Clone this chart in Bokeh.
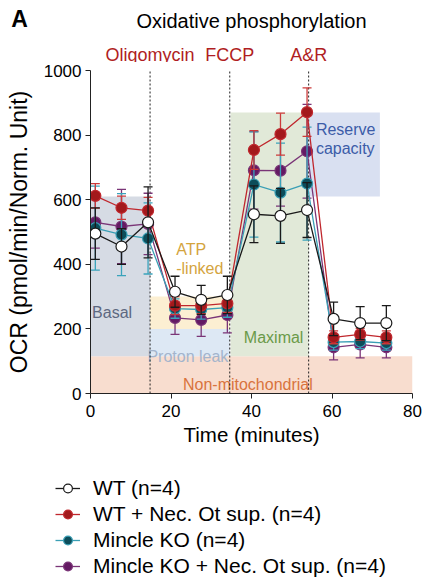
from bokeh.plotting import figure
from bokeh.layouts import column
from bokeh.models import Legend, LegendItem, ColumnDataSource, Range1d, FixedTicker
from bokeh.embed import file_html
from bokeh.resources import INLINE

# ---------------- data ----------------
time_min = [1.2, 7.7, 14.3, 21.0, 27.5, 34.0, 40.6, 47.2, 53.8, 60.4, 67.0, 73.5]

wt_mean = [495, 455, 530, 315, 290, 305, 555, 550, 568, 231, 218, 218]
wt_err = [80, 55, 110, 48, 45, 58, 88, 85, 85, 52, 51, 54]

wt_sup_mean = [612, 575, 566, 272, 272, 279, 754, 803, 871, 174, 183, 174]
wt_sup_err = [38, 36, 41, 28, 25, 28, 60, 65, 75, 20, 18, 20]

ko_mean = [512, 492, 480, 263, 260, 266, 647, 622, 650, 159, 161, 156]
ko_err = [130, 127, 110, 30, 30, 30, 163, 153, 175, 25, 22, 22]

ko_sup_mean = [530, 517, 525, 234, 228, 243, 691, 690, 750, 143, 152, 143]
ko_sup_err = [80, 115, 95, 51, 51, 55, 120, 110, 145, 39, 42, 33]

series_names = ["WT (n=4)", "WT + Nec. Ot sup. (n=4)", "Mincle KO (n=4)",
                "Mincle KO + Nec. Ot sup. (n=4)"]

injection_names = ["Oligomycin", "FCCP", "A&R"]
injection_times = [14.8, 34.6, 54.2]

region_left = [0, 0, 14.8, 14.8, 34.8, 54.2]
region_right = [80, 14.8, 34.6, 34.6, 54.2, 71.9]
region_bottom = [0, 115, 200, 115, 115, 610]
region_top = [115, 610, 300, 200, 870, 870]
region_colors = ["#f8ddcf", "#d6dbe4", "#fcefd2", "#dde8f4", "#e1e9d8", "#d9e0f1"]

x_ticks = [0, 20, 40, 60, 80]
y_ticks = [0, 200, 400, 600, 800, 1000]

FONT = "Liberation Sans"
W = 424
LEFT, RIGHT = 90, 12                     # frame borders of the main plot (px)
X0, X1 = 0, 80                           # time axis range
PX_PER_MIN = (W - LEFT - RIGHT) / (X1 - X0)
HEAD_H = 62

# ---------------- header (panel letter, title, injection labels) ----------------
head = figure(width=W, height=HEAD_H,
              x_range=Range1d(X0 - LEFT / PX_PER_MIN, X1 + RIGHT / PX_PER_MIN),
              y_range=Range1d(0, HEAD_H),
              output_backend="svg", toolbar_location=None, title=None,
              x_axis_type=None, y_axis_type=None,
              min_border_left=0, min_border_right=0, min_border_top=0, min_border_bottom=0)
head.frame_align = False
head.outline_line_color = None
head.grid.visible = False
head.text(x=[X0], y=[HEAD_H - 18], x_offset=-71, text=["A"], text_font={"value": FONT},
          text_font_size="23px", text_font_style="bold", text_align="center",
          text_baseline="middle", text_color="black")
head.text(x=[(X0 + X1) / 2], y=[HEAD_H - 20], text=["Oxidative phosphorylation"],
          text_font={"value": FONT}, text_font_size="20px", text_align="center",
          text_baseline="middle", text_color="black")
head.text(x=injection_times, y=[8] * 3, text=injection_names,
          text_align="center", text_baseline="alphabetic", text_color="#b01e23",
          text_font={"value": FONT}, text_font_size="18px")

# ---------------- main plot ----------------
p = figure(width=W, height=583 - HEAD_H - 128, x_range=Range1d(X0, X1), y_range=Range1d(0, 1000),
           output_backend="svg", toolbar_location=None, title=None,
           min_border_left=LEFT, min_border_right=RIGHT, min_border_top=70 - HEAD_H,
           min_border_bottom=62)
p.frame_align = False
p.outline_line_color = None
p.xgrid.visible = False
p.ygrid.visible = False

for ax in (p.xaxis[0], p.yaxis[0]):
    ax.major_tick_in = 0
    ax.major_tick_out = 5
    ax.minor_tick_line_color = None
    ax.axis_line_color = "#222222"
    ax.major_tick_line_color = "#222222"
    ax.major_label_text_font = FONT
    ax.major_label_text_font_size = "17px"
    ax.major_label_text_color = "black"
    ax.axis_label_text_font = FONT
    ax.axis_label_text_font_style = "normal"
    ax.axis_label_text_color = "black"

p.xaxis[0].ticker = FixedTicker(ticks=x_ticks)
p.yaxis[0].ticker = FixedTicker(ticks=y_ticks)
p.xaxis[0].axis_label = "Time (minutes)"
p.yaxis[0].axis_label = "OCR (pmol/min/Norm. Unit)"
p.xaxis[0].axis_label_text_font_size = "20.5px"
p.yaxis[0].axis_label_text_font_size = "23px"
p.xaxis[0].major_label_standoff = 6
p.yaxis[0].major_label_standoff = 4
p.xaxis[0].axis_label_standoff = 3
p.yaxis[0].axis_label_standoff = 9

# shaded regions
p.quad(left=region_left, right=region_right, bottom=region_bottom, top=region_top,
       fill_color=region_colors, line_color=None)

def txt(fig, x, y, s, color, align="center", size="16px"):
    fig.text(x=[x], y=[y], text=[s], text_color=color, text_font_size=size,
             text_align=align, text_baseline="middle", text_font={"value": FONT})

txt(p, 0.4, 251, "Basal", "#5d6880", align="left")
txt(p, 21.3, 447, "ATP", "#d4a43e", align="left")
txt(p, 21.3, 387, "-linked", "#d4a43e", align="left")
txt(p, 24.2, 116, "Proton leak", "#a3b4cc")
txt(p, 45.5, 174, "Maximal", "#6a9a48")
txt(p, 39.1, 28, "Non-mitochondrial", "#d9733d")
txt(p, 56.0, 817, "Reserve", "#3c5ca8", align="left")
txt(p, 56.0, 758, "capacity", "#3c5ca8", align="left")

# injection dashed lines
p.segment(x0=injection_times, x1=injection_times, y0=[0] * 3, y1=[1000] * 3,
          line_color="#222222", line_dash="2 2", line_width=1)

# series
series = [
    (ko_sup_mean, ko_sup_err, "#7a3577", "#641a63", "#7a3577", "#7a3577", series_names[3]),
    (ko_mean, ko_err, "#3a9fb5", "#0c4d5a", "#3a9fb5", "#3aa3bb", series_names[2]),
    (wt_sup_mean, wt_sup_err, "#c0272d", "#a3191c", "#c0272d", "#cc3a3a", series_names[1]),
    (wt_mean, wt_err, "#1a1a1a", "white", "#1a1a1a", "#1a1a1a", series_names[0]),
]

# ---------------- legend strip ----------------
leg = figure(width=W, height=128, x_range=Range1d(0, W), y_range=Range1d(-200, -100),
             output_backend="svg", toolbar_location=None, title=None,
             x_axis_type=None, y_axis_type=None,
             min_border_left=0, min_border_right=0, min_border_top=0, min_border_bottom=0)
leg.frame_align = False
leg.outline_line_color = None
leg.grid.visible = False

items = {}
for mean, err, lc, fc, mlc, ec, name in series:
    up = [m + e for m, e in zip(mean, err)]
    lo = [m - e for m, e in zip(mean, err)]
    src = ColumnDataSource(dict(t=time_min, m=mean, up=up, lo=lo))
    p.segment(x0="t", x1="t", y0="lo", y1="up", source=src, line_color=ec, line_width=1.3)
    p.scatter(x="t", y="up", source=src, marker="dash", size=9, line_color=ec, line_width=1.3)
    p.scatter(x="t", y="lo", source=src, marker="dash", size=9, line_color=ec, line_width=1.3)
    p.line(x="t", y="m", source=src, line_color=lc, line_width=1.3)
    p.scatter(x="t", y="m", source=src, marker="circle", size=11,
              fill_color=fc, line_color=mlc, line_width=1.2)
    # legend glyphs (data lies outside this strip's ranges, only the legend shows)
    ln = leg.line(x="t", y="m", source=src, line_color=lc, line_width=1.3)
    sc = leg.scatter(x="t", y="m", source=src, marker="circle", size=11,
                     fill_color=fc, line_color=mlc, line_width=1.2)
    items[name] = [ln, sc]

legend = Legend(items=[LegendItem(label=n, renderers=items[n]) for n in series_names],
                location=(55, 5))
legend.label_text_font = FONT
legend.label_text_font_size = "21px"
legend.label_text_color = "black"
legend.glyph_width = 25
legend.glyph_height = 22
legend.label_height = 22
legend.label_standoff = 13
legend.spacing = 2
legend.padding = 0
legend.margin = 0
legend.border_line_color = None
legend.background_fill_alpha = 0
leg.add_layout(legend, "center")

layout = column(head, p, leg, spacing=0)
open("out.html", "w").write(file_html(layout, INLINE))
